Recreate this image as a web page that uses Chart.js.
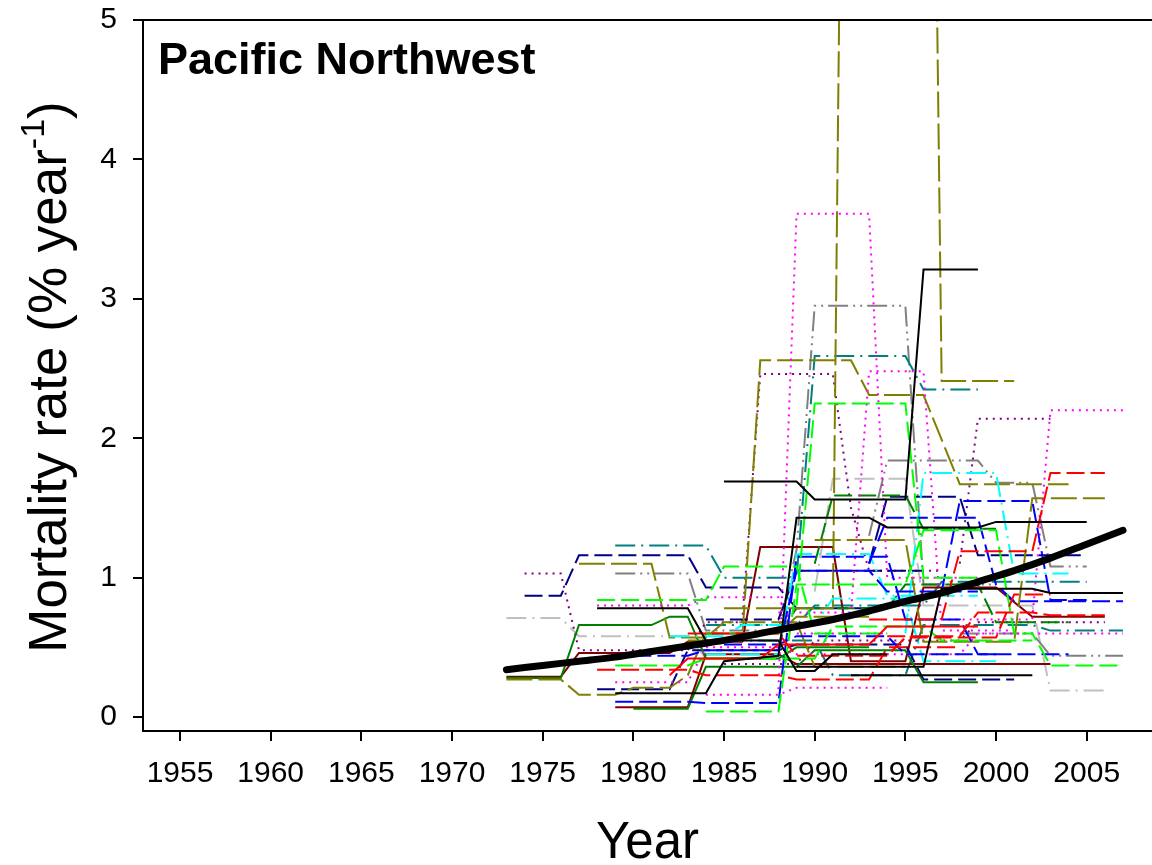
<!DOCTYPE html>
<html>
<head>
<meta charset="utf-8">
<script src="https://cdn.jsdelivr.net/npm/chart.js@4.4.0/dist/chart.umd.min.js"></script>
<style>
  html, body { margin: 0; padding: 0; background: #fff; }
</style>
</head>
<body>
<canvas id="chart" width="1152" height="865"></canvas>
<script>
// axis ticks
const xTicks = [1955, 1960, 1965, 1970, 1975, 1980, 1985, 1990, 1995, 2000, 2005];
const yTicks = [0, 1, 2, 3, 4, 5];

// fitted trend (thick black)
const trendYears = [1973, 1975, 1977, 1979, 1981, 1983, 1985, 1987, 1989, 1991, 1993, 1995, 1997, 1999, 2001, 2003, 2005, 2007];
const trendRates = [0.34, 0.37, 0.40, 0.43, 0.47, 0.51, 0.55, 0.60, 0.65, 0.70, 0.76, 0.83, 0.89, 0.97, 1.05, 1.14, 1.24, 1.34];

// plot series: [year, mortality rate] at each census change
const k1 = [[1985,1.69],[1989,1.69],[1990,1.56],[1995,1.56],[1996,3.21],[1999,3.21]];
const k2 = [[1979,0.17],[1984,0.17],[1985,0.40],[1988,0.44],[1989,1.43],[1993,1.43],[1994,1.36],[1999,1.36],[2000,1.40],[2005,1.40]];
const k3 = [[1978,0.78],[1983,0.78],[1984,0.55],[1988,0.55],[1989,0.33],[1990,0.33],[1991,0.45],[1994,0.45]];
const k4 = [[1989,0.36],[1996,0.36],[1997,0.92],[2002,0.92],[2003,0.89],[2007,0.89]];
const k5 = [[1992,0.30],[2002,0.30]];

const r1 = [[1993,0.70],[1997,0.70],[1998,1.19],[2002,1.19],[2003,1.75],[2006,1.75]];
const r2 = [[1994,0.58],[1998,0.58],[1999,0.75],[2002,0.75],[2003,0.73],[2006,0.73]];
const r3 = [[1978,0.34],[1983,0.34],[1984,0.30],[1988,0.30],[1989,0.27],[1993,0.27],[1994,0.50],[1998,0.50]];
const r4 = [[1982,0.30],[1983,0.42],[1987,0.42],[1988,0.52],[1993,0.52],[1994,0.65],[1999,0.65]];
const r5 = [[1983,0.60],[1988,0.60],[1989,0.44],[1994,0.44],[1995,0.57],[2000,0.57],[2001,0.88],[2003,0.88]];

const g1 = [[1989,0.80],[1990,2.25],[1995,2.25],[1996,1.00],[1999,1.00]];
const g2 = [[1978,0.84],[1984,0.84],[1985,1.08],[1989,1.08],[1990,0.60],[1994,0.60]];
const g3 = [[1984,0.04],[1988,0.04],[1989,0.95],[1995,0.95],[1996,1.34],[2000,1.34],[2001,0.60],[2002,0.60],[2003,0.37],[2007,0.37]];
const g4 = [[1979,0.37],[1983,0.37],[1984,0.42],[1990,0.42],[1991,0.65],[1996,0.65],[1997,0.55],[2002,0.55]];

const b1 = [[1993,1.10],[1994,1.43],[1999,1.43],[2000,0.95],[2001,0.83],[2007,0.83]];
const b2 = [[1997,0.90],[1998,1.55],[2002,1.55],[2003,0.84],[2005,0.84]];
const b3 = [[1979,0.11],[1983,0.11],[1984,0.10],[1988,0.10],[1989,1.15],[1994,1.15],[1995,0.70],[1998,0.70],[1999,0.45],[2004,0.45]];
const b4 = [[1980,0.44],[1983,0.44],[1984,0.48],[1988,0.48],[1989,1.05],[1993,1.05],[1994,0.90],[1999,0.90]];
const b5 = [[1985,0.52],[1988,0.52],[1989,0.58],[1994,0.58],[1995,0.45],[2000,0.45]];

const c1 = [[1995,0.60],[1996,1.75],[2000,1.75],[2001,1.03],[2004,1.03]];
const c2 = [[1984,0.45],[1988,0.45],[1989,1.17],[1993,1.17],[1994,0.87],[1999,0.87]];
const c3 = [[1982,0.58],[1985,0.58],[1986,0.66],[1990,0.66],[1991,0.85],[1995,0.85],[1996,0.40],[2000,0.40]];

const m1 = [[1988,0.20],[1989,3.61],[1993,3.61],[1994,1.00],[1999,1.00]];
const m2 = [[1988,0.75],[1992,0.75],[1993,2.48],[1996,2.48],[1997,0.62],[2001,0.62]];
const m3 = [[1997,0.70],[2002,0.70],[2003,2.20],[2007,2.20]];
const m4 = [[1984,0.16],[1988,0.16],[1989,0.21],[1994,0.21]];
const m5 = [[1978,0.80],[1983,0.80],[1984,0.86],[1988,0.86],[1989,0.60],[1994,0.60]];
const m6 = [[1979,0.25],[1983,0.25],[1984,0.50],[1988,0.50],[1989,0.45],[1998,0.45],[1999,0.60],[2007,0.60]];

const o1 = [[1985,0.78],[1991,0.78],[1992,13.0],[1996,13.0],[1997,2.41],[2001,2.41]];
const o2 = [[1983,0.55],[1986,0.55],[1987,2.56],[1992,2.56],[1993,2.31],[1996,2.31],[1998,1.67],[2004,1.67]];
const o3 = [[1990,1.27],[1995,1.27],[1996,0.54],[2001,0.54],[2002,1.57],[2006,1.57]];
const o4 = [[1973,0.27],[1976,0.27],[1977,0.16],[1979,0.16],[1980,0.21],[1982,0.21],[1983,0.30],[1984,0.60],[1988,0.60],[1989,0.72],[1993,0.72]];
const o5 = [[1977,1.10],[1981,1.10],[1982,0.57],[1984,0.57],[1985,0.68],[1989,0.68],[1990,0.36],[1995,0.36]];

const d1 = [[1973,0.28],[1976,0.28],[1977,0.66],[1981,0.66],[1982,0.72],[1983,0.72],[1984,0.42],[1988,0.42],[1989,0.50],[1993,0.50]];
const d2 = [[1990,1.10],[1991,1.59],[1995,1.59],[1996,1.35],[2000,1.35]];
const d3 = [[1984,0.60],[1988,0.60],[1989,0.78],[1994,0.78],[1995,0.95],[1999,0.95],[2000,0.68],[2004,0.68]];
const d4 = [[1980,0.06],[1983,0.06],[1984,0.36],[1989,0.36],[1990,0.48],[1995,0.48],[1996,0.25],[1999,0.25]];

const n1 = [[1974,0.87],[1976,0.87],[1977,1.16],[1983,1.16],[1984,0.93],[1988,0.93],[1989,0.78],[1994,0.78]];
const n2 = [[1993,1.10],[1994,1.58],[1998,1.58],[1999,1.16],[2005,1.16]];
const n3 = [[1978,0.20],[1982,0.20],[1983,0.48],[1988,0.48],[1989,0.52],[1995,0.52],[1996,0.27],[2001,0.27]];
const n4 = [[1984,0.70],[1988,0.70],[1989,1.05],[1996,1.05]];

const mr1 = [[1973,0.29],[1976,0.29],[1977,0.46],[1982,0.46],[1983,0.54],[1986,0.54],[1987,1.22],[1991,1.22],[1992,0.40],[1995,0.40],[1996,0.93],[2000,0.93],[2002,0.72],[2006,0.72]];
const mr2 = [[1979,0.07],[1983,0.07],[1984,0.45],[1988,0.45],[1989,0.38],[2003,0.38]];

const t1 = [[1979,1.23],[1984,1.23],[1985,1.00],[1989,1.00],[1990,2.59],[1995,2.59],[1996,2.35],[1999,2.35]];
const t2 = [[1984,0.66],[1989,0.66],[1990,0.80],[1996,0.80],[1997,0.97],[2005,0.97]];
const t3 = [[1985,0.55],[1990,0.55],[1991,0.30],[1995,0.30],[1996,0.66],[2002,0.66],[2003,0.62],[2007,0.62]];

const p1 = [[1974,1.03],[1976,1.03],[1977,0.48],[1983,0.48],[1984,0.68],[1986,0.68],[1987,2.46],[1991,2.46],[1992,1.50],[1993,1.05],[1997,1.05]];
const p2 = [[1998,1.10],[1999,2.14],[2003,2.14]];
const p3 = [[1985,0.38],[1989,0.38],[1990,0.55],[1998,0.55],[1999,0.68],[2006,0.68]];

const gy1 = [[1979,1.03],[1983,1.03],[1984,0.62],[1988,0.62],[1989,1.20],[1990,2.95],[1995,2.95],[1996,0.95],[2000,0.95]];
const gy2 = [[1993,1.30],[1994,1.84],[1999,1.84],[2000,1.68],[2002,1.68],[2003,1.08],[2005,1.08]];
const gy3 = [[1998,0.60],[2002,0.60],[2003,0.44],[2007,0.44]];

const sv1 = [[1973,0.71],[1976,0.71],[1977,0.58],[1983,0.58],[1984,0.42],[1989,0.42]];
const sv2 = [[1990,0.90],[1991,1.71],[1995,1.71],[1996,0.80],[2002,0.80],[2003,0.19],[2006,0.19]];

// line styles
const dashes = {
  solid: [],
  dash: [18, 6],
  longdash: [26, 6],
  dot: [2, 5],
  dashdot: [20, 6, 2, 6],
  dashdotdot: [20, 5, 2, 5, 2, 5]
};

const plots = [
  [k1, '#000000', 'solid'], [k2, '#000000', 'solid'], [k3, '#000000', 'solid'], [k4, '#000000', 'solid'], [k5, '#000000', 'solid'],
  [r1, '#ff0000', 'dash'], [r2, '#ff0000', 'dash'], [r3, '#ff0000', 'dash'], [r4, '#ff0000', 'solid'], [r5, '#ff0000', 'dash'],
  [g1, '#00ff00', 'dash'], [g2, '#00ff00', 'dash'], [g3, '#00ff00', 'dash'], [g4, '#00ff00', 'dash'],
  [b1, '#0000ff', 'dash'], [b2, '#0000ff', 'dash'], [b3, '#0000ff', 'dash'], [b4, '#0000ff', 'dash'], [b5, '#0000ff', 'dash'],
  [c1, '#00ffff', 'dashdot'], [c2, '#00ffff', 'dashdot'], [c3, '#00ffff', 'dashdot'],
  [m1, '#ff00ff', 'dot'], [m2, '#ff00ff', 'dot'], [m3, '#ff00ff', 'dot'], [m4, '#ff00ff', 'dot'], [m5, '#ff00ff', 'dot'], [m6, '#ff00ff', 'dot'],
  [o1, '#808000', 'longdash'], [o2, '#808000', 'longdash'], [o3, '#808000', 'longdash'], [o4, '#808000', 'longdash'], [o5, '#808000', 'longdash'],
  [d1, '#008000', 'solid'], [d2, '#008000', 'dash'], [d3, '#008000', 'dash'], [d4, '#008000', 'solid'],
  [n1, '#000080', 'dash'], [n2, '#000080', 'dash'], [n3, '#000080', 'dash'], [n4, '#000080', 'dash'],
  [mr1, '#800000', 'solid'], [mr2, '#800000', 'solid'],
  [t1, '#008080', 'dashdot'], [t2, '#008080', 'dashdot'], [t3, '#008080', 'dashdot'],
  [p1, '#800080', 'dot'], [p2, '#800080', 'dot'], [p3, '#800080', 'dot'],
  [gy1, '#808080', 'dashdotdot'], [gy2, '#808080', 'dashdotdot'], [gy3, '#808080', 'dashdotdot'],
  [sv1, '#c0c0c0', 'dashdot'], [sv2, '#c0c0c0', 'dashdot']
];

const FONT = '"Liberation Sans", Arial, Helvetica, sans-serif';
Chart.defaults.font.family = FONT;
Chart.defaults.color = '#000';

// trend first so that it is drawn on top
const datasets = [{
  data: trendYears.map((yr, i) => ({ x: yr, y: trendRates[i] })),
  borderColor: '#000',
  borderWidth: 7,
  borderCapStyle: 'round',
  tension: 0.3,
  pointRadius: 0
}];
plots.forEach(([pts, color, style]) => {
  datasets.push({
    data: pts.map(p => ({ x: p[0], y: p[1] })),
    borderColor: color,
    borderWidth: 2,
    borderDash: dashes[style],
    pointRadius: 0,
    tension: 0
  });
});

// titles and the top frame line
const frameAndTitles = {
  id: 'frameAndTitles',
  afterDraw(chart) {
    const ctx = chart.ctx;
    const area = chart.chartArea;
    ctx.save();
    ctx.strokeStyle = '#000';
    ctx.lineWidth = 2;
    ctx.beginPath();
    ctx.moveTo(area.left, area.top);
    ctx.lineTo(area.right, area.top);
    ctx.stroke();

    ctx.fillStyle = '#000';
    ctx.font = 'bold 45px ' + FONT;
    ctx.textAlign = 'left';
    ctx.textBaseline = 'alphabetic';
    ctx.fillText('Pacific Northwest', 158, 74);

    ctx.font = '51px ' + FONT;
    ctx.textAlign = 'center';
    ctx.fillText('Year', (area.left + area.right) / 2, 858);

    // y title with superscript
    const big = '53px ' + FONT, small = '34px ' + FONT;
    const a = 'Mortality rate (% year', sup = '-1', b = ')';
    ctx.font = big;
    const wa = ctx.measureText(a).width, wb = ctx.measureText(b).width;
    ctx.font = small;
    const ws = ctx.measureText(sup).width;
    const total = wa + ws + wb;
    ctx.translate(66, 377);
    ctx.rotate(-Math.PI / 2);
    ctx.textAlign = 'left';
    let x = -total / 2;
    ctx.font = big; ctx.fillText(a, x, 0); x += wa;
    ctx.font = small; ctx.fillText(sup, x, -22); x += ws;
    ctx.font = big; ctx.fillText(b, x, 0);
    ctx.restore();
  }
};

new Chart(document.getElementById('chart'), {
  type: 'line',
  data: { datasets },
  options: {
    responsive: false,
    animation: false,
    devicePixelRatio: 1,
    layout: { padding: { top: 20, right: 0, bottom: 0, left: 0 } },
    plugins: { legend: { display: false }, tooltip: { enabled: false } },
    scales: {
      x: {
        type: 'linear',
        min: 1952.96,
        max: 2008.6,
        afterBuildTicks: s => { s.ticks = xTicks.map(v => ({ value: v })); },
        afterFit: s => { s.height = 134; s.paddingLeft = 0; s.paddingRight = 0; },
        grid: { drawOnChartArea: false, drawTicks: true, tickLength: 10, color: '#000', lineWidth: 2 },
        border: { display: true, color: '#000', width: 2 },
        ticks: { font: { size: 30 }, color: '#000', padding: 15, maxRotation: 0, autoSkip: false, callback: v => String(v) }
      },
      y: {
        type: 'linear',
        min: -0.1,
        max: 5,
        afterBuildTicks: s => { s.ticks = yTicks.map(v => ({ value: v })); },
        afterFit: s => { s.width = 143; s.paddingTop = 0; s.paddingBottom = 0; },
        grid: { drawOnChartArea: false, drawTicks: true, tickLength: 10, color: '#000', lineWidth: 2 },
        border: { display: true, color: '#000', width: 2 },
        ticks: { font: { size: 30 }, color: '#000', padding: 16, callback: v => String(v) }
      }
    }
  },
  plugins: [frameAndTitles]
});
</script>
</body>
</html>
